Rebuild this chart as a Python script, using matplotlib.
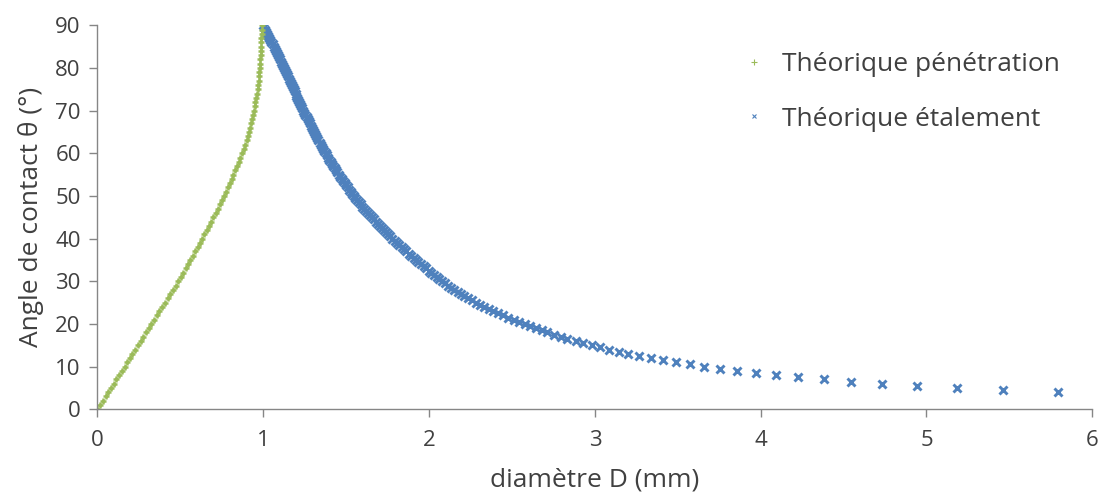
import matplotlib
matplotlib.use('Agg')
import matplotlib.pyplot as plt
from matplotlib.lines import Line2D

plt.rcParams['font.family'] = ['Open Sans', 'DejaVu Sans']

# Théorique pénétration : angle (°) et diamètre (mm)
theta_pen = list(range(0, 91))
d_pen = [0.000, 0.016, 0.033, 0.049, 0.065, 0.081, 0.098, 0.114, 0.130, 0.146,
         0.163, 0.179, 0.195, 0.211, 0.228, 0.244, 0.260, 0.276, 0.293, 0.309,
         0.325, 0.341, 0.358, 0.374, 0.390, 0.406, 0.423, 0.439, 0.455, 0.471,
         0.487, 0.502, 0.516, 0.531, 0.546, 0.561, 0.576, 0.590, 0.604, 0.618,
         0.632, 0.645, 0.659, 0.672, 0.686, 0.699, 0.712, 0.724, 0.737, 0.749,
         0.761, 0.773, 0.785, 0.797, 0.809, 0.820, 0.831, 0.841, 0.851, 0.861,
         0.871, 0.881, 0.890, 0.899, 0.906, 0.913, 0.919, 0.925, 0.931, 0.937,
         0.943, 0.948, 0.953, 0.958, 0.962, 0.966, 0.969, 0.972, 0.975, 0.977,
         0.979, 0.981, 0.983, 0.985, 0.986, 0.987, 0.988, 0.989, 0.990, 0.990,
         0.990]

# Théorique étalement (pas de 0,5°)
theta_eta = [90, 89.5, 89, 88.5, 88, 87.5, 87, 86.5, 86, 85.5, 85, 84.5, 84,
             83.5, 83, 82.5, 82, 81.5, 81, 80.5, 80, 79.5, 79, 78.5, 78, 77.5,
             77, 76.5, 76, 75.5, 75, 74.5, 74, 73.5, 73, 72.5, 72, 71.5, 71,
             70.5, 70, 69.5, 69, 68.5, 68, 67.5, 67, 66.5, 66, 65.5, 65, 64.5,
             64, 63.5, 63, 62.5, 62, 61.5, 61, 60.5, 60, 59.5, 59, 58.5, 58,
             57.5, 57, 56.5, 56, 55.5, 55, 54.5, 54, 53.5, 53, 52.5, 52, 51.5,
             51, 50.5, 50, 49.5, 49, 48.5, 48, 47.5, 47, 46.5, 46, 45.5, 45,
             44.5, 44, 43.5, 43, 42.5, 42, 41.5, 41, 40.5, 40, 39.5, 39, 38.5,
             38, 37.5, 37, 36.5, 36, 35.5, 35, 34.5, 34, 33.5, 33, 32.5, 32,
             31.5, 31, 30.5, 30,
             29.5, 29, 28.5, 28, 27.5, 27, 26.5, 26, 25.5, 25, 24.5, 24, 23.5,
             23, 22.5, 22, 21.5, 21, 20.5, 20, 19.5, 19, 18.5, 18, 17.5, 17,
             16.5, 16, 15.5, 15, 14.5, 14, 13.5, 13, 12.5, 12, 11.5, 11, 10.5,
             10, 9.5, 9, 8.5, 8, 7.5, 7, 6.5, 6, 5.5, 5, 4.5, 4]
d_eta = [1.000, 1.006, 1.012, 1.019, 1.025, 1.031, 1.037, 1.043, 1.049, 1.056,
         1.062, 1.068, 1.074, 1.081, 1.087, 1.094, 1.100, 1.107, 1.113, 1.119,
         1.125, 1.132, 1.138, 1.144, 1.150, 1.156, 1.161, 1.167, 1.172, 1.178,
         1.183, 1.189, 1.195, 1.200, 1.206, 1.212, 1.218, 1.224, 1.230, 1.236,
         1.242, 1.248, 1.254, 1.261, 1.267, 1.274, 1.280, 1.287, 1.293, 1.300,
         1.306, 1.313, 1.319, 1.326, 1.333, 1.340, 1.347, 1.354, 1.361, 1.369,
         1.376, 1.384, 1.391, 1.399, 1.406, 1.414, 1.422, 1.430, 1.438, 1.447,
         1.455, 1.464, 1.472, 1.481, 1.490, 1.499, 1.508, 1.518, 1.527, 1.537,
         1.546, 1.556, 1.566, 1.577, 1.587, 1.598, 1.608, 1.619, 1.630, 1.642,
         1.653, 1.665, 1.677, 1.689, 1.701, 1.714, 1.726, 1.739, 1.752, 1.766,
         1.779, 1.793, 1.806, 1.820, 1.834, 1.848, 1.862, 1.877, 1.891, 1.906,
         1.921, 1.936, 1.951, 1.967, 1.982, 1.998, 2.013, 2.029, 2.045, 2.062,
         2.079,
         2.097, 2.115, 2.133, 2.152, 2.172, 2.192, 2.213, 2.235, 2.258,
         2.282, 2.307, 2.333, 2.360, 2.388, 2.417, 2.447, 2.478, 2.510, 2.543,
         2.577, 2.611, 2.645, 2.679, 2.713, 2.751, 2.796, 2.832, 2.884, 2.928,
         2.981, 3.031, 3.085, 3.143, 3.202, 3.268, 3.337, 3.411, 3.489, 3.572,
         3.658, 3.752, 3.859, 3.970, 4.094, 4.227, 4.382, 4.545, 4.730, 4.943,
         5.184, 5.463, 5.795]

green = '#9BBB59'
blue = '#4F81BD'
grey = '#868686'
txt = '#404040'

fig = plt.figure(figsize=(11.04, 4.97), dpi=100)
ax = fig.add_axes([0.0883, 0.1765, 0.9011, 0.7726])

ax.plot(d_eta, theta_eta, linestyle='none', marker='x', color=blue,
        markersize=5.2, markeredgewidth=2.1)
ax.plot(d_pen, theta_pen, linestyle='none', marker='+', color=green,
        markersize=5, markeredgewidth=1.8)

ax.set_xlim(0, 6)
ax.set_ylim(0, 90)
ax.set_xticks(range(0, 7))
ax.set_yticks(range(0, 91, 10))

for s in ['top', 'right']:
    ax.spines[s].set_visible(False)
for s in ['left', 'bottom']:
    ax.spines[s].set_color(grey)
    ax.spines[s].set_linewidth(1.0)
ax.tick_params(direction='out', length=6, width=1, color=grey,
               labelsize=16, labelcolor=txt, pad=6)
ax.tick_params(axis='x', pad=9)

ax.set_xlabel('diamètre D (mm)', fontsize=19, color=txt, labelpad=12)
ax.set_ylabel('Angle de contact θ (°)', fontsize=19, color=txt, labelpad=8)

handles = [Line2D([], [], linestyle='none', marker='+', color=green,
                  markersize=4, markeredgewidth=0.8),
           Line2D([], [], linestyle='none', marker='x', color=blue,
                  markersize=3.5, markeredgewidth=0.8)]
ax.legend(handles, ['Théorique pénétration', 'Théorique étalement'],
          loc='upper left', bbox_to_anchor=(746 / 1104, 1 - 52 / 497),
          bbox_transform=fig.transFigure, frameon=False, fontsize=19,
          labelspacing=1.12, handlelength=0.6, handletextpad=0.75,
          borderaxespad=0, borderpad=0, labelcolor=txt)

fig.savefig('out.png', dpi=100)
